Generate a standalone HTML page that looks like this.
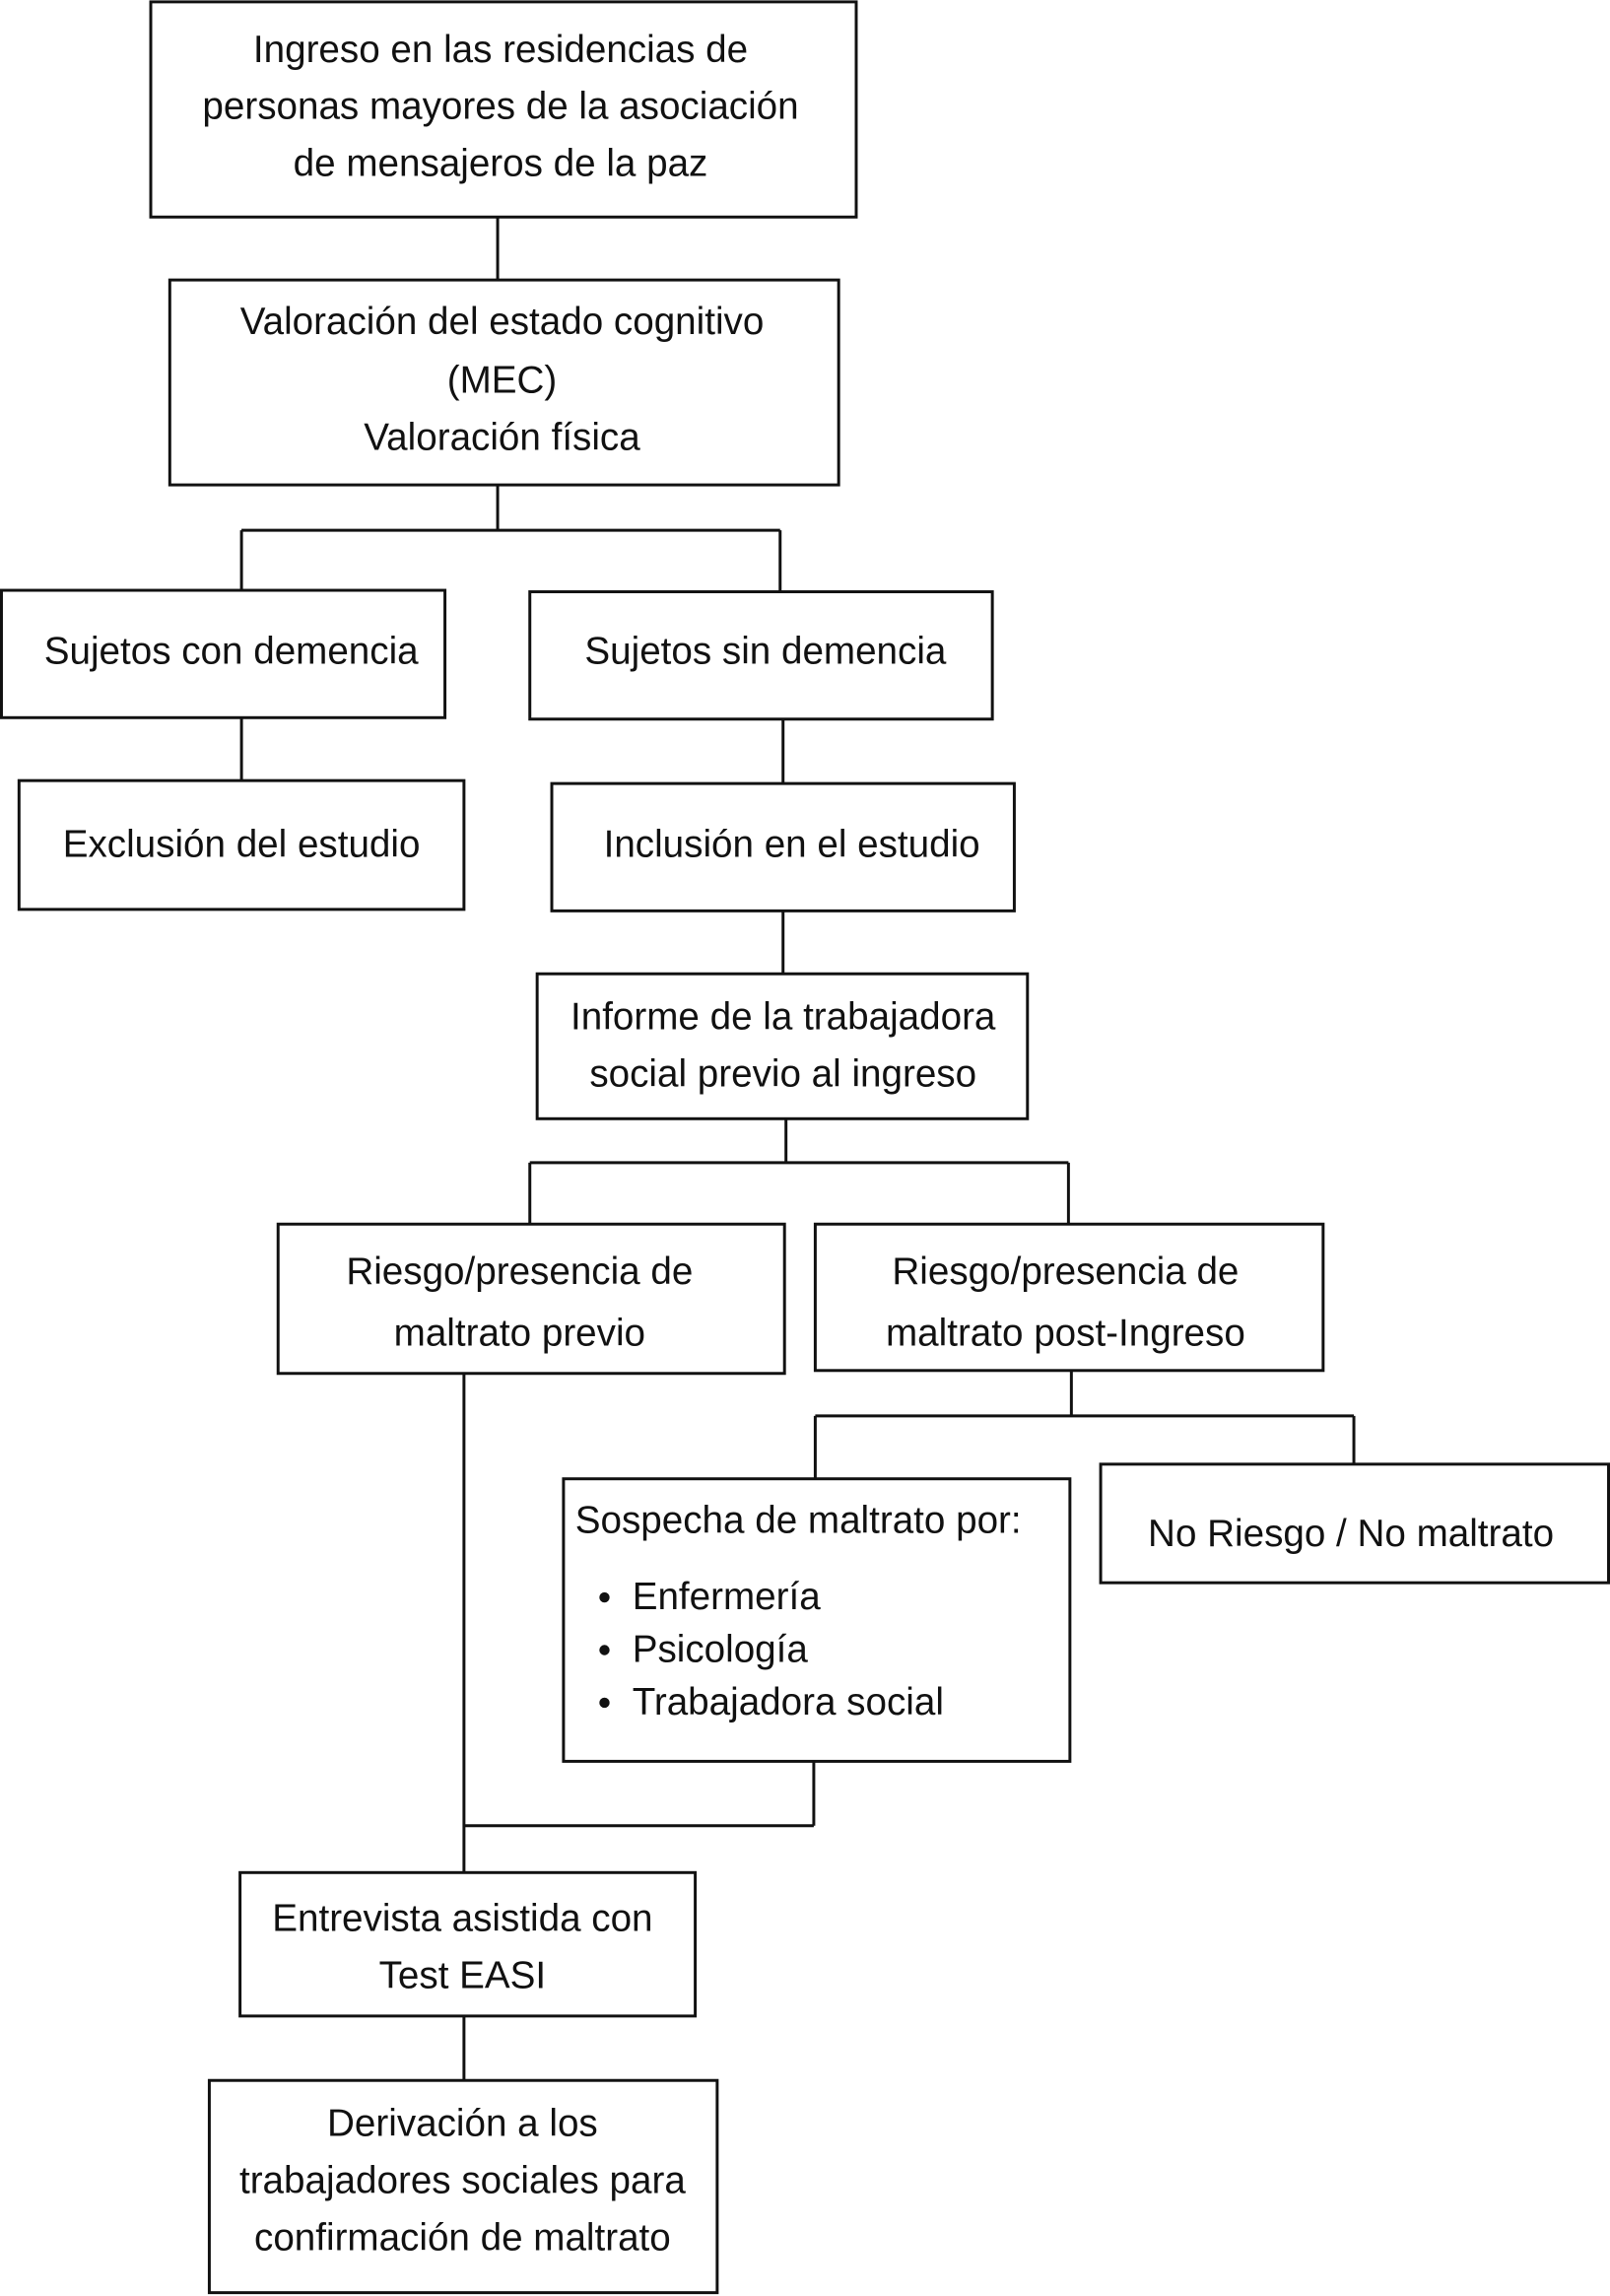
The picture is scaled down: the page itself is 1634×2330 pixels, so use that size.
<!DOCTYPE html>
<html><head><meta charset="utf-8"><style>
html,body{margin:0;padding:0;background:#fff;}
svg{display:block;}
text{font-family:"Liberation Sans",Arial,sans-serif;font-size:26px;fill:#111;}
</style></head><body>
<svg width="1634" height="2330" viewBox="0 0 1100 1568" xmlns="http://www.w3.org/2000/svg">
<g fill="none" stroke="#111" stroke-width="2">
<rect x="103" y="1" width="482" height="147"/>
<rect x="116" y="191" width="457" height="140"/>
<rect x="1" y="403" width="303" height="87"/>
<rect x="362" y="404" width="316" height="87"/>
<rect x="13" y="533" width="304" height="88"/>
<rect x="377" y="535" width="316" height="87"/>
<rect x="367" y="665" width="335" height="99"/>
<rect x="190" y="836" width="346" height="102"/>
<rect x="557" y="836" width="347" height="100"/>
<rect x="385" y="1010" width="346" height="193"/>
<rect x="752" y="1000" width="347" height="81"/>
<rect x="164" y="1279" width="311" height="98"/>
<rect x="143" y="1421" width="347" height="145"/>
<path d="M340 148V191 M340 331V362 M165 362H533 M165 362V403 M533 362V404 M165 490V533 M535 491V535 M535 622V665 M537 764V794 M362 794H730 M362 794V836 M730 794V836 M732 936V967 M557 967H925 M557 967V1010 M925 967V1000 M317 938V1279 M556 1203V1247 M317 1247H556 M317 1377V1421"/>
</g>
<g text-anchor="middle">
<text x="342" y="42">Ingreso en las residencias de</text>
<text x="342" y="81">personas mayores de la asociación</text>
<text x="342" y="120">de mensajeros de la paz</text>
<text x="343" y="228">Valoración del estado cognitivo</text>
<text x="343" y="268">(MEC)</text>
<text x="343" y="307">Valoración física</text>
<text x="158" y="453">Sujetos con demencia</text>
<text x="523" y="453">Sujetos sin demencia</text>
<text x="165" y="585">Exclusión del estudio</text>
<text x="541" y="585">Inclusión en el estudio</text>
<text x="535" y="703">Informe de la trabajadora</text>
<text x="535" y="742">social previo al ingreso</text>
<text x="355" y="877">Riesgo/presencia de</text>
<text x="355" y="919">maltrato previo</text>
<text x="728" y="877">Riesgo/presencia de</text>
<text x="728" y="919">maltrato post-Ingreso</text>
<text x="923" y="1056">No Riesgo / No maltrato</text>
<text x="316" y="1319">Entrevista asistida con</text>
<text x="316" y="1358">Test EASI</text>
<text x="316" y="1459">Derivación a los</text>
<text x="316" y="1498">trabajadores sociales para</text>
<text x="316" y="1537">confirmación de maltrato</text>
</g>
<text x="393" y="1047">Sospecha de maltrato por:</text>
<circle cx="413" cy="1091" r="3.5" fill="#111"/>
<circle cx="413" cy="1127" r="3.5" fill="#111"/>
<circle cx="413" cy="1163" r="3.5" fill="#111"/>
<text x="432" y="1099">Enfermería</text>
<text x="432" y="1135">Psicología</text>
<text x="432" y="1171">Trabajadora social</text>
</svg>
</body></html>
